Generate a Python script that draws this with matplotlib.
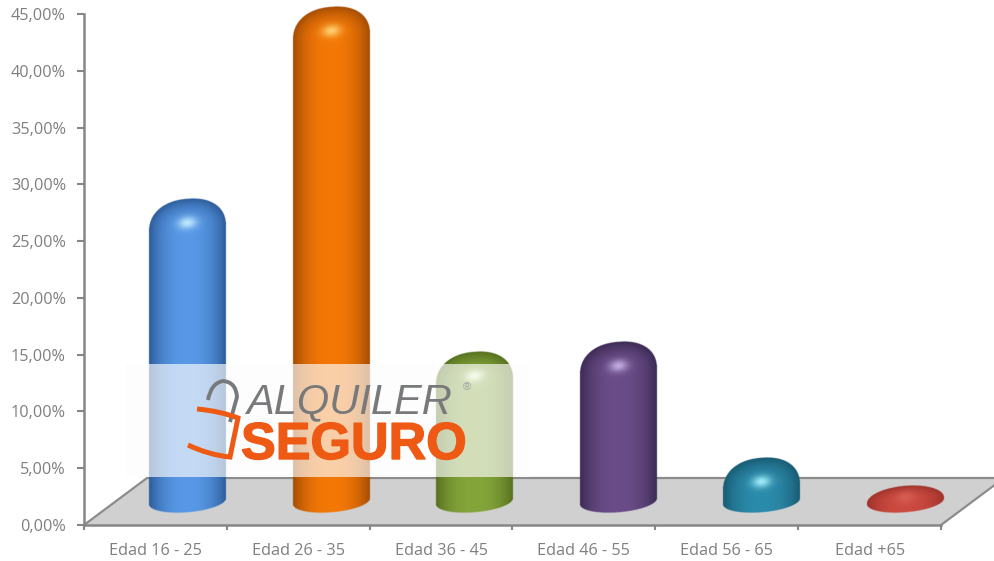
import numpy as np
import matplotlib
matplotlib.use('Agg')
import matplotlib.pyplot as plt
import matplotlib.patheffects as pe
from matplotlib.colors import to_rgb
from matplotlib.path import Path
from matplotlib.patches import PathPatch, Polygon, Rectangle
from matplotlib.transforms import Affine2D

# chart data
categories = ['Edad 16 - 25', 'Edad 26 - 35', 'Edad 36 - 45', 'Edad 46 - 55', 'Edad 56 - 65', 'Edad +65']
values = [25.7, 42.6, 12.2, 13.1, 2.9, 0.4]
y_ticks = [0, 5, 10, 15, 20, 25, 30, 35, 40, 45]
y_labels = ['0,00%', '5,00%', '10,00%', '15,00%', '20,00%', '25,00%', '30,00%', '35,00%', '40,00%', '45,00%']

# bar colours
centre_cols = ['#5898E6', '#F47806', '#84A53A', '#6A4D88', '#2B8BAB', '#CB4A40']
edge_cols = ['#2C5C9A', '#A34C04', '#56701F', '#3C2A54', '#185A72', '#9E322A']
spot_cols = ['#C8F0FF', '#FFD878', '#F4FFD8', '#C8B4E8', '#A8F4FF', '#D85E54']

W, H = 995, 561
GREY = '#868686'

fig = plt.figure(figsize=(W / 100, H / 100), dpi=100, facecolor='white')
ax = fig.add_axes([84 / W, 1 - 525 / H, (941 - 84) / W, (525 - 14) / H])

px_x = 6 / (941 - 84)   # data units per pixel
px_y = 45 / (525 - 14)

# floor of the 3d chart
depth_x = 63 * px_x
depth_y = 47 * px_y
ax.add_patch(Polygon([(0, 0), (depth_x, depth_y), (6 + depth_x, depth_y), (6, 0)],
                     closed=True, fc='#D0D0D0', ec='none', clip_on=False, zorder=1))
ax.plot([0, depth_x, 6 + depth_x, 6], [0, depth_y, depth_y, 0], color='#8C8C8C', lw=1.6,
        clip_on=False, zorder=2, solid_joinstyle='miter')


def draw_bar(i, val):
    cx = i + 0.5 + (32 + 0.7 * i) * px_x
    hw = 38.5 * px_x
    base = 23 * px_y
    ell = 11 * px_y
    tilt = 3 * px_y
    top = val + base + ell
    cap = 30 * px_y
    shoulder = top - cap
    n = 2.25
    if shoulder < base:
        shoulder = base + 1 * px_y
        cap = top - shoulder
        n = 2.0

    nx = 160
    ny = max(int((top - base + ell + 2 * tilt) / px_y * 2), 40)
    ylo = base - ell - tilt * 1.5
    yhi = top + tilt * 1.5
    xs = np.linspace(-1.02, 1.02, nx)
    ys = np.linspace(yhi, ylo, ny)
    u, y = np.meshgrid(xs, ys)
    y0 = y - tilt * u
    au = np.clip(np.abs(u), 0, 1)

    # outline: rounded top and elliptic bottom, both sheared a little
    upper = shoulder + cap * (1 - au ** n) ** (1 / n)
    lower = base - ell * np.sqrt(1 - au ** 2)
    soft = 0.7 * px_y
    alpha = np.clip((upper - y0) / soft + 0.5, 0, 1) * np.clip((y0 - lower) / soft + 0.5, 0, 1)
    alpha *= np.clip((1 - np.abs(u)) / 0.012 + 0.5, 0, 1)

    # cylinder shading, dome shading near the top
    t = np.clip((y0 - shoulder) / cap, 0, 1)
    r = np.minimum((au ** n + t ** n) ** (1 / n), 1)
    light = 1 - r ** 2.4
    c0 = np.array(to_rgb(centre_cols[i]))
    c1 = np.array(to_rgb(edge_cols[i]))
    c2 = np.array(to_rgb(spot_cols[i]))
    img = np.zeros(u.shape + (4,))
    spot_y = shoulder + 0.2 * cap
    spot = np.exp(-(u / 0.24) ** 2 - ((y0 - spot_y) / (6 * px_y)) ** 2)
    for k in range(3):
        col = c1[k] + (c0[k] - c1[k]) * light
        img[..., k] = col + (c2[k] - col) * spot * 0.9
    img[..., 3] = alpha
    ax.imshow(img, extent=[cx - 1.02 * hw, cx + 1.02 * hw, ylo, yhi], aspect='auto',
              interpolation='bilinear', zorder=3, clip_on=False)


for i, v in enumerate(values):
    draw_bar(i, v)

ax.set_xlim(0, 6)
ax.set_ylim(0, 45)
ax.patch.set_alpha(0)

for s in ['top', 'right']:
    ax.spines[s].set_visible(False)
for s in ['left', 'bottom']:
    ax.spines[s].set_color(GREY)
    ax.spines[s].set_linewidth(1.8)
    ax.spines[s].set_zorder(4)

ax.set_yticks(y_ticks)
ax.set_yticklabels(y_labels)
ax.set_xticks(range(7))
ax.set_xticklabels([])
ax.set_xticks([i + 0.5 for i in range(6)], minor=True)
ax.set_xticklabels(categories, minor=True)
ax.tick_params(axis='y', length=5, width=1.5, color=GREY, labelcolor='#7F7F7F', labelsize=11.7, pad=8)
ax.tick_params(axis='x', which='major', length=3.5, width=1.5, color=GREY)
ax.tick_params(axis='x', which='minor', length=0, labelcolor='#7F7F7F', labelsize=11.7, pad=13)
for lab in ax.get_yticklabels() + ax.get_xticklabels(minor=True):
    lab.set_family('Open Sans')

# logo band and logo, placed in image pixels
px = Affine2D().scale(1, -1).translate(0, H)
fig.add_artist(Rectangle((125, 364), 405, 112.5, transform=px, fc='#FDFDFD', ec='none', alpha=0.66, zorder=5))

LOGO_GREY = '#77797B'
LOGO_ORANGE = '#EE5A14'
shackle = Path([(208, 400), (211, 383), (223, 381), (236, 382), (237, 397), (230, 422)],
               [Path.MOVETO, Path.CURVE3, Path.CURVE3, Path.CURVE3, Path.CURVE3, Path.LINETO])
fig.add_artist(PathPatch(shackle, transform=px, fc='none', ec=LOGO_GREY, lw=2.8, zorder=6))
body = Path([(197, 409), (220, 411), (238, 418), (230, 457), (209, 455), (188, 445)],
            [Path.MOVETO, Path.CURVE3, Path.CURVE3, Path.LINETO, Path.CURVE3, Path.CURVE3])
fig.add_artist(PathPatch(body, transform=px, fc='none', ec=LOGO_ORANGE, lw=3.6, zorder=6,
                         joinstyle='miter'))
fig.text(246, 413, 'ALQUILER', transform=px, family='Liberation Sans', style='italic', size=30,
         color=LOGO_GREY, ha='left', va='baseline', zorder=6)
seguro = fig.text(241, 459, 'SEGURO', transform=px, family='Liberation Sans', weight='bold', size=37.5,
                  color=LOGO_ORANGE, ha='left', va='baseline', zorder=6)
seguro.set_path_effects([pe.withStroke(linewidth=1.0, foreground=LOGO_ORANGE)])
fig.text(467, 390, '®', transform=px, family='Liberation Sans', size=8, color='#A0A0A0',
         ha='center', va='baseline', zorder=6)

fig.savefig('out.png', dpi=100)
